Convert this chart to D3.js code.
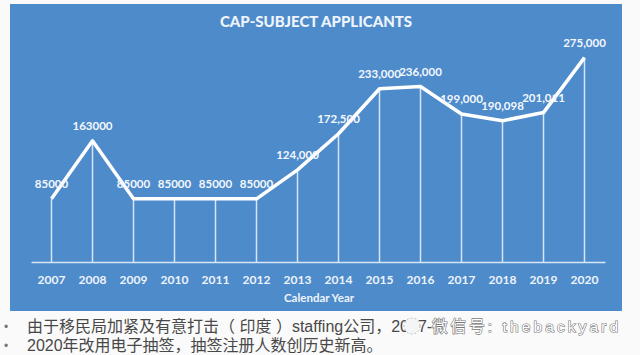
<!DOCTYPE html>
<html>
<head>
<meta charset="utf-8">
<script src="https://cdn.jsdelivr.net/npm/d3@7"></script>
<style>
  html, body { margin: 0; padding: 0; background: #fafafa; }
  svg { display: block; }
</style>
</head>
<body>
<svg id="chart" width="640" height="355"></svg>
<script>
// ---- data ----
const years = ["2007","2008","2009","2010","2011","2012","2013","2014","2015","2016","2017","2018","2019","2020"];
const applicants = [85000,163000,85000,85000,85000,85000,124000,172500,233000,236000,199000,190098,201011,275000];
const valueLabels = ["85000","163000","85000","85000","85000","85000","124,000","172,500","233,000","236,000","199,000","190,098","201,011","275,000"];
const title = "CAP-SUBJECT APPLICANTS";
const xTitle = "Calendar Year";
const notes = ["由于移民局加紧及有意打击（ 印度 ）staffing公司，2017-", "2020年改用电子抽签，抽签注册人数创历史新高。"];
const watermark = "微信号: thebackyard";

// ---- layout ----
const svg = d3.select("#chart");
const panel = {x: 10, y: 4, w: 612, h: 307};
const font = "Lato, 'Open Sans', sans-serif";

svg.append("rect")
  .attr("x", panel.x).attr("y", panel.y)
  .attr("width", panel.w).attr("height", panel.h)
  .attr("fill", "#4e8bcb");

const x = d3.scaleBand().domain(years).range([31, 605]);
const y = d3.scaleLinear().domain([0, 300000]).range([262, 39]);
const cx = d => x(d) + x.bandwidth() / 2;

// title
svg.append("text")
  .attr("x", 316).attr("y", 27)
  .attr("text-anchor", "middle")
  .attr("font-family", font).attr("font-weight", 900)
  .attr("font-size", 15).attr("fill", "#eef4fb")
  .text(title);

// drop lines
svg.append("g").selectAll("line")
  .data(years)
  .join("line")
  .attr("x1", d => cx(d)).attr("x2", d => cx(d))
  .attr("y1", (d, i) => y(applicants[i])).attr("y2", y(0))
  .attr("stroke", "#d6e6f6").attr("stroke-width", 1.5);

// x axis
const xAxis = svg.append("g")
  .attr("transform", `translate(0,${y(0)})`)
  .call(d3.axisBottom(x).tickSize(0).tickPadding(13));
xAxis.select(".domain").attr("stroke", "#d6e6f6").attr("stroke-width", 1.5);
xAxis.selectAll("text")
  .attr("font-family", font).attr("font-weight", 700)
  .attr("font-size", 12).attr("fill", "#eef4fb");

// axis title
svg.append("text")
  .attr("x", 319).attr("y", 302)
  .attr("text-anchor", "middle")
  .attr("font-family", font).attr("font-weight", 700)
  .attr("font-size", 11.5).attr("fill", "#eef4fb")
  .text(xTitle);

// line
const line = d3.line()
  .x((d, i) => cx(years[i]))
  .y(d => y(d));
svg.append("path")
  .datum(applicants)
  .attr("d", line)
  .attr("fill", "none")
  .attr("stroke", "#ffffff")
  .attr("stroke-width", 3.5)
  .attr("stroke-linejoin", "round");

// value labels
svg.append("g").selectAll("text")
  .data(valueLabels)
  .join("text")
  .attr("x", (d, i) => cx(years[i]))
  .attr("y", (d, i) => y(applicants[i]) - 11)
  .attr("text-anchor", "middle")
  .attr("font-family", font).attr("font-weight", 700)
  .attr("font-size", 11.5).attr("fill", "#f4f8fd")
  .text(d => d);

// notes below the panel
const noteFont = "'Liberation Sans', 'Noto Sans CJK SC', sans-serif";
notes.forEach((t, i) => {
  const yy = 332 + i * 19;
  svg.append("text")
    .attr("x", 4).attr("y", yy - 1)
    .attr("font-family", noteFont).attr("font-size", 12)
    .attr("fill", "#777").text("•");
  svg.append("text")
    .attr("x", 27).attr("y", yy)
    .attr("font-family", noteFont).attr("font-size", 16)
    .attr("fill", "#484848").text(t);
});

// watermark
svg.append("circle")
  .attr("cx", 412).attr("cy", 326).attr("r", 8)
  .attr("fill", "#f5f5f5").attr("stroke", "#bbb")
  .attr("stroke-dasharray", "2,2");
svg.append("text")
  .attr("x", 432).attr("y", 332)
  .attr("font-family", noteFont).attr("font-size", 15.5)
  .attr("fill", "#ffffff").attr("stroke", "#777").attr("stroke-width", 1.2)
  .attr("paint-order", "stroke")
  .attr("textLength", 186)
  .text(watermark);
</script>
</body>
</html>
